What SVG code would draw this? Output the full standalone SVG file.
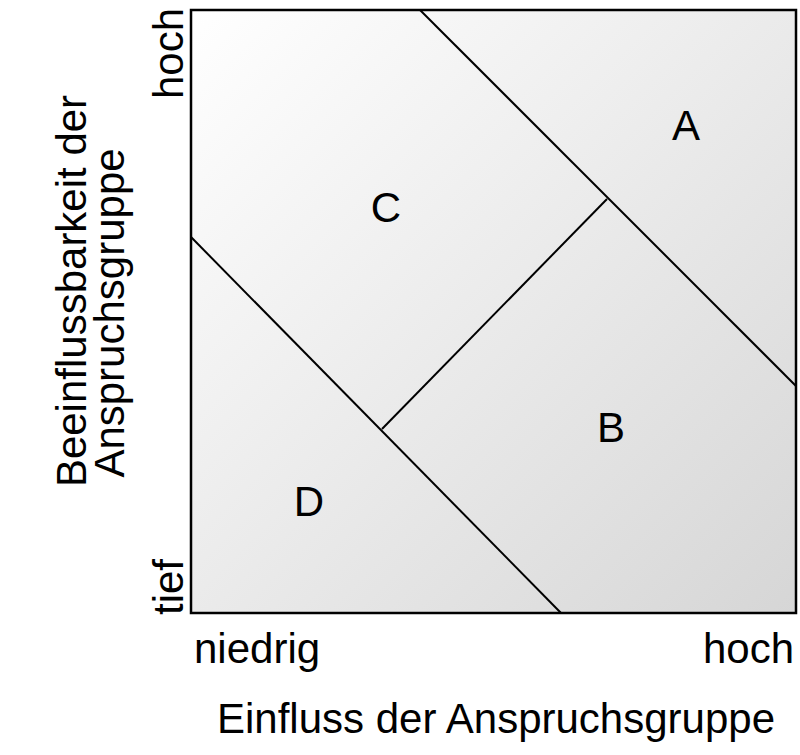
<svg xmlns="http://www.w3.org/2000/svg" width="800" height="755" viewBox="0 0 800 755">
  <defs>
    <linearGradient id="fieldFill" x1="0" y1="0" x2="1" y2="1">
      <stop offset="0" stop-color="#ffffff"/>
      <stop offset="1" stop-color="#d6d6d6"/>
    </linearGradient>
  </defs>
  <style>
    text { font-family: "Liberation Sans", Arial, sans-serif; font-size: 42px; fill: #000; }
    .edge { stroke: #000; stroke-width: 2; fill: none; }
    .mid { text-anchor: middle; }
  </style>
  <rect width="800" height="755" fill="#ffffff"/>

  <!-- portfolio field -->
  <g id="field">
    <rect x="191" y="10" width="605" height="603" fill="url(#fieldFill)" stroke="#000" stroke-width="2.5"/>
  </g>

  <!-- dividing lines -->
  <g id="connectors">
    <line class="edge" x1="420" y1="10" x2="796" y2="386"/>
    <line class="edge" x1="191" y1="237" x2="561" y2="613"/>
    <line class="edge" x1="382" y1="429" x2="607" y2="199"/>
  </g>

  <!-- segment labels -->
  <g id="segA"><text class="mid" x="686" y="140">A</text></g>
  <g id="segB"><text class="mid" x="611" y="442">B</text></g>
  <g id="segC"><text class="mid" x="386" y="222">C</text></g>
  <g id="segD"><text class="mid" x="309" y="516">D</text></g>

  <!-- horizontal axis -->
  <g id="xAxis">
    <text x="194" y="663">niedrig</text>
    <text x="794" y="663" text-anchor="end">hoch</text>
    <text class="mid" x="496" y="733">Einfluss der Anspruchsgruppe</text>
  </g>

  <!-- vertical axis -->
  <g id="yAxis">
    <text transform="translate(183,99) rotate(-90)">hoch</text>
    <text transform="translate(183,615) rotate(-90)">tief</text>
    <text class="mid" transform="translate(86,291) rotate(-90)">Beeinflussbarkeit der</text>
    <text class="mid" transform="translate(124,313) rotate(-90)">Anspruchsgruppe</text>
  </g>
</svg>
